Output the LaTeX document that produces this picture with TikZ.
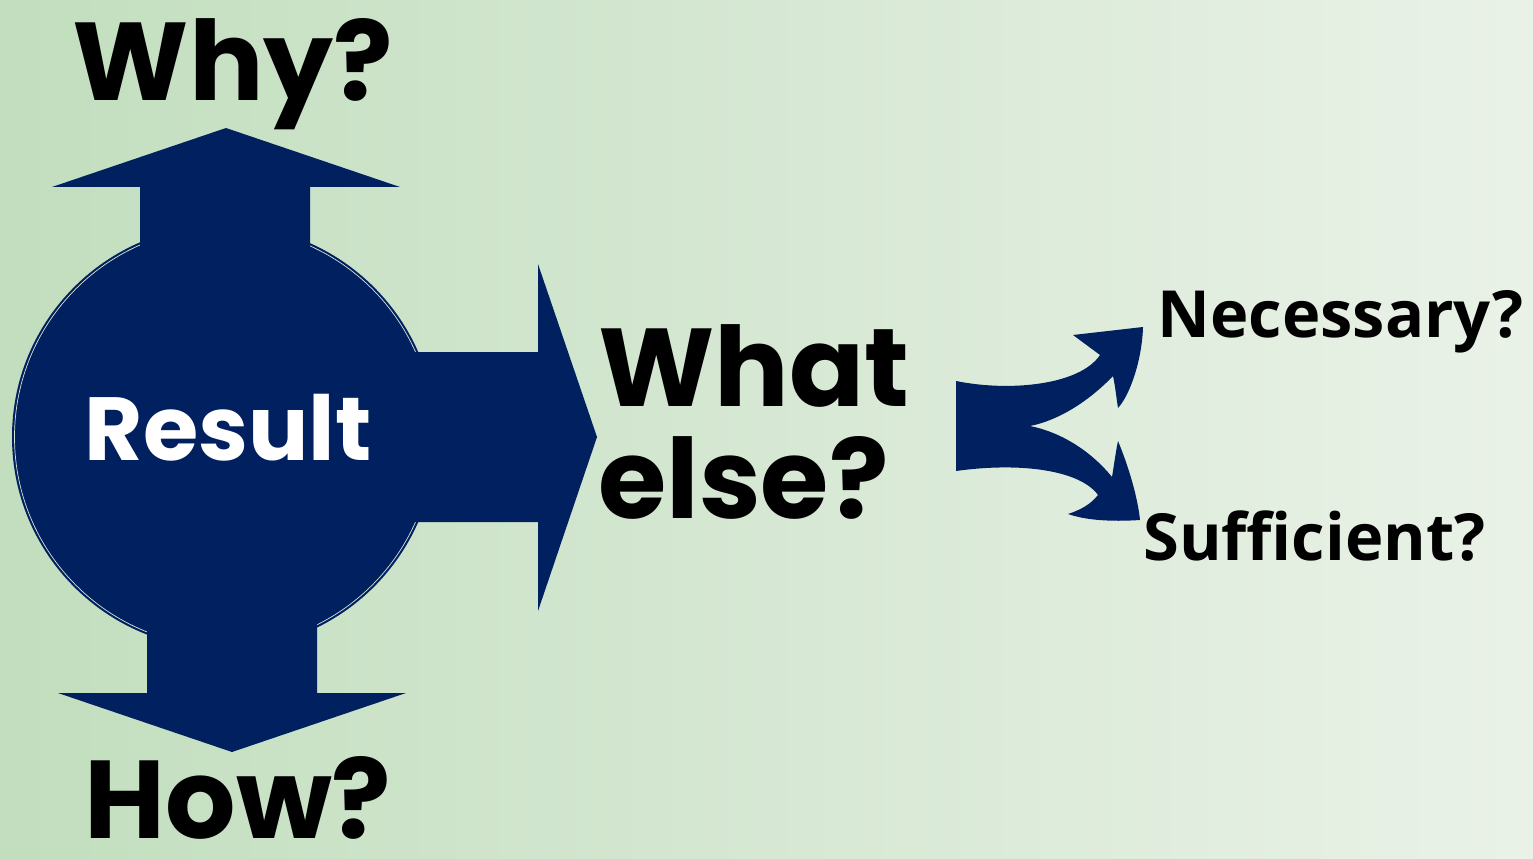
\documentclass[tikz,border=0pt]{standalone}
\usepackage{fontspec}
\usepackage{xcolor}
\usepackage{tikz}
\newfontfamily\handfont{Poppins}
\newfontfamily\plainfont{Open Sans}
\definecolor{navy}{RGB}{0,32,96}
\definecolor{bgleft}{RGB}{194,222,190}
\definecolor{bgright}{RGB}{234,242,232}
\definecolor{ringline}{RGB}{214,226,214}

\begin{document}
\begin{tikzpicture}[
  x=0.02cm, y=-0.02cm,
  hand/.style={font=\handfont\bfseries\fontsize{63}{63}\selectfont, inner sep=0pt},
  plain/.style={font=\plainfont\bfseries\fontsize{37}{37}\selectfont, inner sep=0pt, anchor=base west},
  blockarrow/.style={fill=navy, draw=none}
]
\useasboundingbox (0,0) rectangle (1533,858);
\shade[left color=bgleft, right color=bgright] (0,0) rectangle (1533,858);

\fill[navy] (224,437) circle [radius=212];
\draw[ringline, line width=0.4pt] (224,437) circle [radius=209.5];
\fill[blockarrow] (140,437) -- (140,187) -- (52,187) -- (226,128) -- (400,187) -- (310,187) -- (310,437) -- cycle;
\fill[blockarrow] (147,437) -- (147,693) -- (58,693) -- (232,752) -- (406,693) -- (317,693) -- (317,437) -- cycle;
\fill[blockarrow] (224,352) -- (538,352) -- (538,264) -- (597,437) -- (538,611) -- (538,522) -- (224,522) -- cycle;

\fill[blockarrow] (956,381) .. controls (1010,392) and (1080,385) .. (1100,355) -- (1073,335) -- (1143,327)
  .. controls (1142,360) and (1130,395) .. (1118,408) .. controls (1116,395) and (1115,385) .. (1113,376)
  .. controls (1090,400) and (1060,420) .. (1030,426) .. controls (1060,432) and (1090,450) .. (1112,477)
  .. controls (1114,465) and (1116,450) .. (1118,441) .. controls (1130,470) and (1138,500) .. (1140,520)
  .. controls (1110,522) and (1085,520) .. (1068,514) .. controls (1080,510) and (1090,505) .. (1098,495)
  .. controls (1080,470) and (1020,462) .. (956,471) -- cycle;

\node[hand, anchor=base] (why) at (233,101) {Why?};
\node[hand, anchor=base] (how) at (238,838) {How?};
\node[hand, anchor=base, text=white, font=\handfont\bfseries\fontsize{51}{51}\selectfont] (result) at (228,460) {Result};
\node[hand, anchor=base west] (what) at (598,406) {What};
\node[hand, anchor=base west] (else) at (598,518) {else?};
\node[plain] (necessary) at (1157,337) {Necessary?};
\node[plain] (sufficient) at (1143,560) {Sufficient?};
\end{tikzpicture}
\end{document}
